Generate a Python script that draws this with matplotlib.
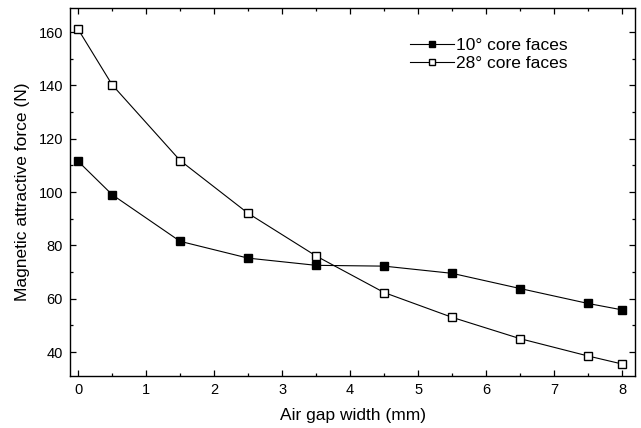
import matplotlib
matplotlib.use("Agg")
import matplotlib.pyplot as plt
from matplotlib.ticker import MultipleLocator

plt.rcParams['font.family'] = ['Liberation Sans', 'DejaVu Sans']

gap = [0, 0.5, 1.5, 2.5, 3.5, 4.5, 5.5, 6.5, 7.5, 8]
force_10 = [111.5, 99.0, 81.5, 75.2, 72.5, 72.2, 69.5, 63.8, 58.2, 55.8]
force_28 = [161.0, 140.2, 111.8, 92.0, 76.0, 62.3, 53.0, 45.0, 38.5, 35.5]
labels = ['10° core faces', '28° core faces']

fig = plt.figure(figsize=(6.41, 4.28), dpi=100)
ax = fig.add_axes([70/641, 1-376/428, (635-70)/641, (376-8)/428])

ax.plot(gap, force_10, '-s', color='black', lw=0.8, ms=6, mfc='black', mec='black', label=labels[0])
ax.plot(gap, force_28, '-s', color='black', lw=0.8, ms=6, mfc='white', mec='black', label=labels[1])

ax.set_xlim(-0.12, 8.19)
ax.set_ylim(31, 169)
ax.xaxis.set_major_locator(MultipleLocator(1))
ax.xaxis.set_minor_locator(MultipleLocator(0.5))
ax.yaxis.set_major_locator(MultipleLocator(20))
ax.yaxis.set_minor_locator(MultipleLocator(10))
ax.tick_params(which='both', direction='in', top=True, right=True, labelsize=10.5)
ax.tick_params(which='major', length=4, width=0.9, pad=5)
ax.tick_params(which='minor', length=2.5, width=0.9)
for s in ax.spines.values():
    s.set_linewidth(1.0)

ax.set_xlabel('Air gap width (mm)', fontsize=12.5, labelpad=8)
ax.set_ylabel('Magnetic attractive force (N)', fontsize=12.5, labelpad=6)

ax.legend(loc='upper left', bbox_to_anchor=(0.602, 0.92), frameon=False, fontsize=12.5,
          borderpad=0, borderaxespad=0, handlelength=2.5, handletextpad=0.15,
          labelspacing=0.2, markerscale=0.65)

fig.savefig('out.png', dpi=100)
